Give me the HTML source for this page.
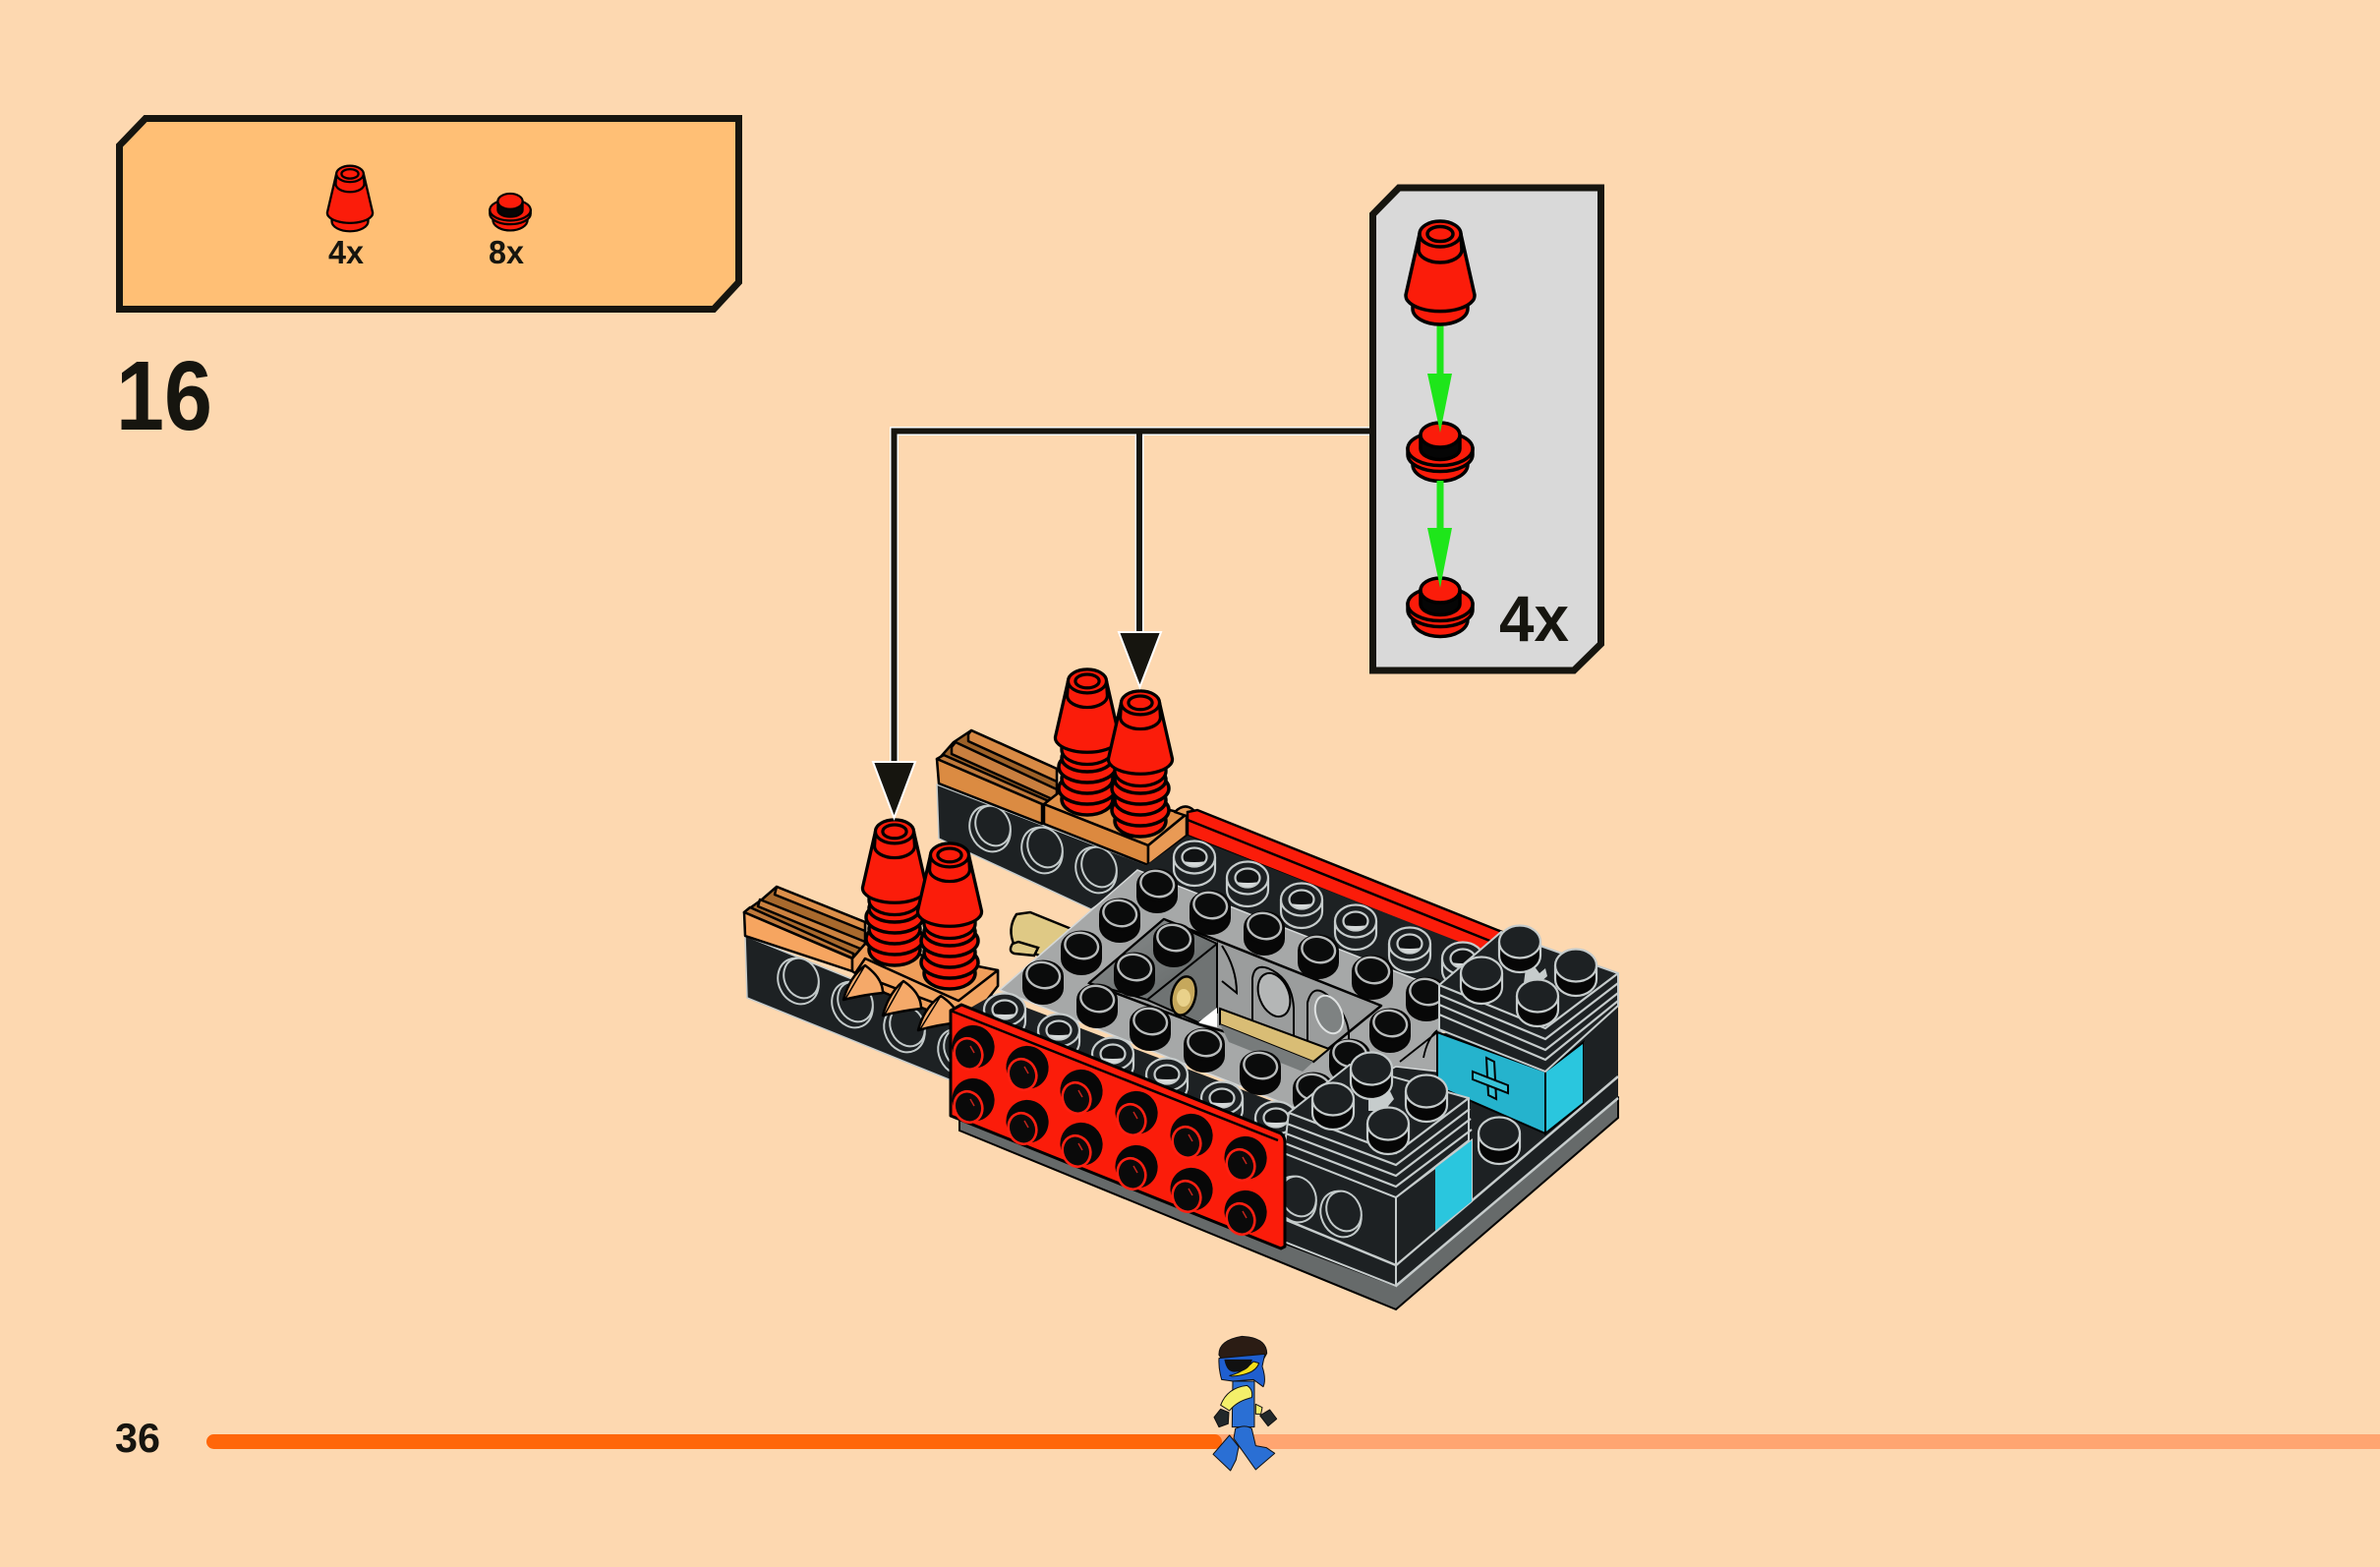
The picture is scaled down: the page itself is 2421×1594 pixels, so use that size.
<!DOCTYPE html>
<html><head><meta charset="utf-8"><style>html,body{margin:0;padding:0;background:#fdd8b0}svg{display:block}text{font-family:"Liberation Sans",sans-serif;font-weight:700;fill:#16150f}</style></head><body>
<svg width="2421" height="1594" viewBox="0 0 2421 1594" xmlns="http://www.w3.org/2000/svg">
<defs>
<g id="cone" stroke="#000" stroke-width="3.5" stroke-linejoin="round" fill="#fb1c0a">
<path d="M-28,84 V90 A28,16 0 0 0 28,90 V84Z"/>
<path d="M-21,14 L-35,76 Q-35,80 -33,82 A35,16 0 0 0 33,82 Q35,80 35,76 L21,14Z"/>
<path d="M-21,14 L-22,30 A22,13 0 0 0 22,30 L21,14Z"/>
<ellipse cy="14" rx="21" ry="13"/>
<ellipse cy="14" rx="13" ry="7.5"/>
</g>
<g id="plate" stroke="#000" stroke-width="3.5" fill="#fb1c0a">
<path d="M-28,38 V44 A28,17 0 0 0 28,44 V38Z"/>
<path d="M-33,28 V34 A33,17 0 0 0 33,34 V28Z"/>
<ellipse cy="28" rx="33" ry="17"/>
<path d="M-20,14 V28 A20,11 0 0 0 20,28 V14Z" fill="#050505"/>
<ellipse cy="14" rx="20" ry="12.5"/>
</g>
<g id="stack" stroke="#000" stroke-width="3.5" fill="#fb1c0a">
<ellipse cy="133" rx="26" ry="16"/><ellipse cy="122" rx="29" ry="16"/><ellipse cy="112" rx="26" ry="15"/><ellipse cy="100" rx="29" ry="16"/><ellipse cy="91" rx="26" ry="14"/>
<use href="#cone" transform="scale(.93,.92)"/>
</g>
<g id="bs">
<path d="M-21,0 V12 A21,17 0 0 0 21,12 V0Z" fill="#070707"/>
<ellipse rx="21" ry="16.5" fill="#070707"/>
<ellipse cy="-1" rx="17" ry="13" fill="#0b0c0c" stroke="#b9bcbc" stroke-width="2.4" transform="rotate(12)"/>
</g>
<g id="hs">
<path d="M-21,0 V12 A21,17 0 0 0 21,12 V0" fill="#1d2123" stroke="#c6cccc" stroke-width="2.2"/>
<ellipse rx="21" ry="16.5" fill="#1d2123" stroke="#c6cccc" stroke-width="2.2"/>
<ellipse rx="12.5" ry="9.5" fill="#101213" stroke="#c6cccc" stroke-width="2.2"/>
<path d="M-9,5 Q0,12 9,5 Q0,6 -9,5Z" fill="#d5d9d9" stroke="#d5d9d9"/>
</g>
<g id="ds">
<path d="M-21,0 V14 A21,17 0 0 0 21,14 V0" fill="#060606" stroke="#c6cccc" stroke-width="2.2"/>
<ellipse rx="21" ry="16.5" fill="#1d2123" stroke="#c6cccc" stroke-width="2.2"/>
</g>
<g id="rs">
<ellipse cx="1" cy="-2" rx="21.5" ry="22" fill="#070707" transform="rotate(-25)"/>
<ellipse cx="-5" cy="5" rx="14" ry="16" fill="#0a0a0a" stroke="#ff2012" stroke-width="2.6" transform="rotate(-22 -5 5)"/>
<path d="M-3,-3 L1,4" stroke="#c0241c" stroke-width="1.5"/>
</g>
<g id="ring" fill="none" stroke="#c3caca" stroke-width="2">
<ellipse rx="20" ry="24" transform="rotate(-25)"/>
<ellipse cx="3" cy="-3" rx="17" ry="21" fill="#1d2123" transform="rotate(-25 3 -3)"/>
</g>
<linearGradient id="panel" x1="0" y1="0" x2="1" y2="1"><stop offset="0" stop-color="#8d9090"/><stop offset="1" stop-color="#5d6262"/></linearGradient>
</defs>

<rect width="2421" height="1594" fill="#fdd8b0"/>

<!-- parts box -->
<path d="M148,120.5 H751.5 V287 L726,314.5 H121.5 V148Z" fill="#ffbf75" stroke="#16150f" stroke-width="7"/>
<use href="#cone" transform="translate(356,168) scale(.66,.635)"/>
<use href="#plate" transform="translate(519,196) scale(.63,.63)"/>
<text x="334" y="268" font-size="33" textLength="36" lengthAdjust="spacingAndGlyphs">4x</text>
<text x="497" y="268" font-size="33" textLength="36" lengthAdjust="spacingAndGlyphs">8x</text>
<text x="118" y="437" font-size="100" textLength="98" lengthAdjust="spacingAndGlyphs">16</text>

<!-- connector -->
<path d="M909.5,780 V438.5 H1395 M1159,438.5 V650" fill="none" stroke="#fff" stroke-width="9"/>
<path d="M909.5,780 V438.5 H1395 M1159,438.5 V650" fill="none" stroke="#16150f" stroke-width="6"/>

<!-- callout -->
<path d="M1423,191 H1628.5 V655 L1601,682 H1396.5 V218Z" fill="#d9d9d9" stroke="#16150f" stroke-width="7"/>
<rect x="1461.5" y="328" width="7" height="60" fill="#1ee61a"/>
<rect x="1461.5" y="489" width="7" height="55" fill="#1ee61a"/>
<use href="#plate" transform="translate(1465,586.5)"/>
<path d="M1452,537 H1477 L1465,598Z" fill="#1ee61a"/>
<use href="#plate" transform="translate(1465,428.5)"/>
<rect x="1461.5" y="489" width="7" height="55" fill="#1ee61a"/>
<path d="M1452,380 H1477 L1465,440Z" fill="#1ee61a"/>
<use href="#cone" transform="translate(1465,224)"/>
<text x="1525" y="652" font-size="66" textLength="71" lengthAdjust="spacingAndGlyphs">4x</text>

<!-- back bar -->
<g stroke="#000" stroke-width="2.5" stroke-linejoin="round">
<path d="M953,798 L1172,882 L1110,925 L955,853Z" fill="#1d2123" stroke="#c6cccc" stroke-width="1.5"/>
<use href="#ring" transform="translate(1007,843)"/><use href="#ring" transform="translate(1060,865)"/><use href="#ring" transform="translate(1115,885)"/>
<path d="M988,743 L1075,782 V822 L955,772 L970,755Z" fill="#9d6128"/>
<path d="M988,743 L1075,782 V795 L985,754 V747Z" fill="#d88a45"/>
<path d="M972,755 L1075,803 V815 L968,767 V760Z" fill="#c97f3f"/>
<path d="M953,772 L960,768 L1067,815 V820 L1060,818Z" fill="#c07a3c"/>
<path d="M953,772 L1060,818 V838 L955,797Z" fill="#db8b42"/>
<path d="M1062,818 L1085,800 L1207,828 L1168,860Z" fill="#e39249"/>
<path d="M1062,818 L1168,860 V880 L1062,838Z" fill="#dc893f"/>
<path d="M1168,860 L1207,828 V850 L1168,880Z" fill="#e99a55"/>
<path d="M1195,826 Q1205,816 1214,824 L1207,830Z" fill="#e99a55"/>
</g>

<!-- front bar -->
<g stroke="#000" stroke-width="2.5" stroke-linejoin="round">
<path d="M758,952 L1000,1050 L970,1100 L760,1015Z" fill="#1d2123" stroke="#c6cccc" stroke-width="1.5"/>
<use href="#ring" transform="translate(812,998)"/><use href="#ring" transform="translate(867,1022)"/><use href="#ring" transform="translate(920,1047)"/><use href="#ring" transform="translate(975,1070)"/>
<path d="M790,902 L880,938 V975 L757,928 L775,915Z" fill="#a8692d"/>
<path d="M790,902 L880,938 V947 L788,910Z" fill="#dc8f4a"/>
<path d="M773,915 L880,958 V967 L771,922Z" fill="#cc8240"/>
<path d="M757,928 L763,923 L868,970 V975Z" fill="#c07a3c"/>
<path d="M757,928 L867,975 V988 L758,952Z" fill="#f6a560"/>
<path d="M867,975 L880,960 L1015,987 V1003 L975,1040 L900,1010 L867,988Z" fill="#ef9e5a"/>
<path d="M870,990 L990,1035 L1015,1003 L1015,987 L975,1018 L880,975Z" fill="#f3a562"/>
<g fill="#f5a969">
<path d="M858,1017 Q864,994 880,982 Q898,995 898,1010 Q878,1012 858,1017Z"/>
<path d="M898,1033 Q904,1010 919,998 Q937,1010 937,1026 Q918,1028 898,1033Z"/>
<path d="M934,1048 Q940,1025 957,1013 Q975,1025 977,1040 Q955,1042 934,1048Z"/>
</g>
<path d="M880,982 L860,1016 M919,998 L900,1032 M957,1013 L936,1047" stroke-width="1.5" fill="none"/>
</g>

<!-- tan pin -->
<g stroke="#000" stroke-width="2.5">
<path d="M1034,930 L1048,928 L1090,945 L1060,973 L1032,962 Q1024,945 1034,930Z" fill="#dfc985"/>
<path d="M1030,960 Q1025,968 1032,970 L1052,972 L1056,964 L1036,958Z" fill="#dfc985"/>
</g>

<!-- back strips -->
<path d="M1208,826 L1218,824 L1528,948 L1507,969 L1208,850Z" fill="#fb1c0a" stroke="#000" stroke-width="2.5"/>
<path d="M1208,834 L1518,958" stroke="#000" stroke-width="2.5" fill="none"/>
<path d="M1158,886 L1208,850 L1510,968 L1475,1012Z" fill="#1d2123"/>
<use href="#hs" transform="translate(1215,872)"/><use href="#hs" transform="translate(1269,893)"/><use href="#hs" transform="translate(1324,915)"/><use href="#hs" transform="translate(1379,937)"/><use href="#hs" transform="translate(1434,960)"/><use href="#hs" transform="translate(1488,975)"/>

<!-- base -->
<path d="M976,1139 L1420,1308 L1646,1117 V1137 L1420,1332 L976,1150Z" fill="#666a6a" stroke="#000" stroke-width="2"/>
<path d="M1300,1245 L1420,1308 L1646,1117 L1646,1000 L1300,1100Z" fill="#1d2123"/>

<!-- front dark strip + gray top -->
<path d="M1010,1012 L1320,1130 L1310,1180 L970,1035Z" fill="#1d2123"/>
<path d="M1017,1007 L1157,885 L1470,1008 L1464,1090 L1420,1085 L1330,1133 L1317,1127Z" fill="#a6a8a8" stroke="#d5d8d8" stroke-width="1.5"/>
<g fill="none" stroke="#000" stroke-width="1.8"><path d="M1448,1076 Q1452,1056 1462,1048 M1424,1080 L1462,1050"/></g>
<!-- hole -->
<path d="M1108,1000 L1184,935 L1405,1023 L1351,1067 L1336,1080 L1241,1048 L1219,1042Z" fill="#9b9d9d" stroke="#000" stroke-width="2.5" stroke-linejoin="round"/>
<path d="M1108,1000 L1184,935 L1238,960 L1238,1025 L1167,1017Z" fill="url(#panel)" stroke="#000" stroke-width="2"/>
<path d="M1167,1017 L1238,960 V1030 L1219,1040Z" fill="#6f7373" stroke="#000" stroke-width="2"/>
<ellipse cx="1204" cy="1013" rx="12" ry="20" fill="#c6a85c" stroke="#000" stroke-width="2.5" transform="rotate(14 1204 1013)"/>
<ellipse cx="1204" cy="1015" rx="7" ry="9" fill="#e9d18a"/>
<path d="M1238,1025 V1045 L1219,1040Z" fill="#fff"/>
<g fill="none" stroke="#000" stroke-width="2"><path d="M1274,1050 V995 Q1276,980 1290,985 Q1314,995 1316,1025 V1062"/><ellipse cx="1296" cy="1012" rx="15" ry="23" fill="#b4b6b6" transform="rotate(-22 1296 1012)"/><path d="M1330,1070 V1020 Q1335,1000 1350,1012 Q1370,1030 1372,1050 V1070"/><ellipse cx="1352" cy="1032" rx="13" ry="20" fill="#7e8282" stroke="#dfe2e2" transform="rotate(-22 1352 1032)"/><path d="M1243,962 Q1258,985 1258,1010 L1243,998"/></g>
<path d="M1241,1026 L1352,1067 L1336,1080 L1241,1042Z" fill="#d9bd75" stroke="#000" stroke-width="2"/>
<path d="M1241,1042 L1336,1080 L1325,1090 L1250,1060Z" fill="#777b7b"/>

<!-- black studs -->
<g>
<use href="#bs" transform="translate(1177,900)"/><use href="#bs" transform="translate(1231,922)"/><use href="#bs" transform="translate(1286,943)"/><use href="#bs" transform="translate(1341,967)"/><use href="#bs" transform="translate(1396,988)"/><use href="#bs" transform="translate(1451,1010)"/>
<use href="#bs" transform="translate(1139,930)"/><use href="#bs" transform="translate(1194,955)"/>
<use href="#bs" transform="translate(1100,963)"/><use href="#bs" transform="translate(1154,985)"/>
<use href="#bs" transform="translate(1061,993)"/><use href="#bs" transform="translate(1116,1017)"/><use href="#bs" transform="translate(1170,1040)"/><use href="#bs" transform="translate(1225,1062)"/><use href="#bs" transform="translate(1282,1085)"/>
<use href="#bs" transform="translate(1414,1042)"/><use href="#bs" transform="translate(1373,1073)"/><use href="#bs" transform="translate(1336,1107)"/>
</g>
<!-- front hollow studs -->
<use href="#hs" transform="translate(1022,1027)"/><use href="#hs" transform="translate(1077,1048)"/><use href="#hs" transform="translate(1132,1072)"/><use href="#hs" transform="translate(1187,1093)"/><use href="#hs" transform="translate(1243,1117)"/><use href="#hs" transform="translate(1298,1137)"/>

<!-- right rear block -->
<path d="M1462,1050 L1572,1090 V1153 L1462,1105Z" fill="#25b3cd" stroke="#000" stroke-width="2"/>
<path d="M1572,1090 L1611,1060 V1122 L1572,1153Z" fill="#2ac6de" stroke="#000" stroke-width="2"/>
<path d="M1611,1060 L1646,1023 V1097 L1611,1122Z" fill="#1d2123"/>
<g fill="#39c3d8" stroke="#000" stroke-width="2"><path d="M1512,1076 L1520,1080 L1522,1118 L1514,1114Z"/><path d="M1498,1090 L1534,1104 L1534,1112 L1498,1098Z"/></g>
<path d="M1464,1002 L1527,948 L1646,990 V1023 L1572,1090 L1464,1047Z" fill="#1d2123" stroke="#c6cccc" stroke-width="2"/>
<g fill="none" stroke="#c6cccc" stroke-width="2.2"><path d="M1464,1012 L1572,1057 L1646,1000"/><path d="M1464,1022 L1572,1068 L1646,1010"/><path d="M1464,1032 L1572,1078 L1646,1018"/><path d="M1464,1002 L1572,1046 L1646,990"/></g>
<path d="M1552,985 L1560,982 L1566,990 L1572,985 L1574,993 L1566,1000 H1550Z" fill="#c6cccc"/>
<use href="#ds" transform="translate(1546,958)"/><use href="#ds" transform="translate(1603,982)"/><use href="#ds" transform="translate(1507,990)"/><use href="#ds" transform="translate(1564,1013)"/>
<use href="#ds" transform="translate(1525,1153)"/>

<!-- lower lines on right -->
<path d="M1420,1287 L1646,1095 M1420,1308 L1646,1117" fill="none" stroke="#c6cccc" stroke-width="2.5"/>

<!-- front right block -->
<path d="M1306,1173 L1420,1218 V1308 L1306,1263Z" fill="#1d2123" stroke="#c6cccc" stroke-width="2"/>
<path d="M1306,1240 L1420,1287" stroke="#c6cccc" stroke-width="2.5"/>
<path d="M1420,1218 L1497,1160 V1222 L1420,1287Z" fill="#1d2123" stroke="#c6cccc" stroke-width="2"/>
<path d="M1460,1188 L1497,1160 V1222 L1460,1252Z" fill="#2ac6de"/>
<use href="#ring" transform="translate(1364,1235)"/><use href="#ring" transform="translate(1318,1220)"/>
<path d="M1311,1132 L1373,1083 L1494,1117 V1160 L1420,1218 L1306,1173Z" fill="#1d2123" stroke="#c6cccc" stroke-width="2"/>
<g fill="none" stroke="#c6cccc" stroke-width="2.2"><path d="M1311,1132 L1420,1173 L1494,1117"/><path d="M1309,1143 L1420,1185 L1495,1128"/><path d="M1308,1153 L1420,1196 L1496,1138"/><path d="M1307,1163 L1420,1207 L1497,1149"/></g>
<path d="M1392,1112 L1402,1108 L1406,1116 L1414,1110 L1418,1118 L1408,1130 H1392Z" fill="#c6cccc"/>
<use href="#ds" transform="translate(1395,1087)"/><use href="#ds" transform="translate(1451,1110)"/><use href="#ds" transform="translate(1356,1118)"/><use href="#ds" transform="translate(1412,1143)"/>

<!-- red front plate -->
<path d="M967,1028 L978,1022 L1303,1153 Q1307,1156 1307,1162 V1268 L1303,1270 L967,1135Z" fill="#fb1c0a" stroke="#000" stroke-width="3" stroke-linejoin="round"/>
<path d="M967,1028 L1300,1160" fill="none" stroke="#000" stroke-width="2.5"/>
<use href="#rs" transform="translate(990,1067)"/><use href="#rs" transform="translate(1045,1088)"/><use href="#rs" transform="translate(1100,1112)"/><use href="#rs" transform="translate(1156,1134)"/><use href="#rs" transform="translate(1212,1157)"/><use href="#rs" transform="translate(1267,1180)"/>
<use href="#rs" transform="translate(990,1121)"/><use href="#rs" transform="translate(1045,1143)"/><use href="#rs" transform="translate(1100,1166)"/><use href="#rs" transform="translate(1156,1189)"/><use href="#rs" transform="translate(1212,1212)"/><use href="#rs" transform="translate(1267,1235)"/>

<!-- stacks -->
<use href="#stack" transform="translate(1106,680)"/>
<use href="#stack" transform="translate(1160,702)"/>
<use href="#stack" transform="translate(910,833)"/>
<use href="#stack" transform="translate(966,857)"/>

<!-- arrowheads -->
<path d="M888,775 H931 L909.5,832Z" fill="#16150f" stroke="#fff" stroke-width="2"/>
<path d="M1138,643 H1181 L1159.5,699Z" fill="#16150f" stroke="#fff" stroke-width="2"/>

<!-- timeline -->
<rect x="1220" y="1459" width="1201" height="15" fill="#ffa571"/>
<rect x="210" y="1459" width="1033" height="15" rx="7.5" fill="#ff660a"/>
<text x="117" y="1477" font-size="42" textLength="46" lengthAdjust="spacingAndGlyphs">36</text>

<!-- minifig -->
<g transform="translate(1160,1340) scale(.3333)" stroke="#111" stroke-width="3" stroke-linejoin="round">
<path d="M225,305 L245,280 L270,290 L268,325 L240,335Z" fill="#22282a"/>
<path d="M365,300 L395,282 L416,310 L390,332Z" fill="#22282a"/>
<path d="M352,265 L372,275 L368,295 L352,295Z" fill="#f0ee6a"/>
<path d="M282,195 H348 V335 H280Z" fill="#2a6fd4"/>
<path d="M245,268 Q265,215 325,208 Q345,220 340,245 Q295,255 272,285Z" fill="#f4f06a"/>
<path d="M290,340 Q320,325 340,340 L352,392 L385,398 L410,415 L352,465 L285,370Z" fill="#2a6fd4"/>
<path d="M272,360 L300,395 L292,435 L275,468 L222,418Z" fill="#2a6fd4"/>
<path d="M240,115 Q238,70 310,58 Q385,62 386,110 L375,130 H250Z" fill="#2b1c14"/>
<path d="M240,125 L380,112 L372,150 Q385,190 375,212 L345,190 L282,195 L248,190 Q238,155 240,125Z" fill="#1f5fd0"/>
<path d="M272,178 Q310,170 345,135 L362,140 Q350,175 280,180Z" fill="#f2de1a"/>
<path d="M258,130 H340 Q330,165 290,165 Q265,168 258,130Z" fill="#111"/>
</g>
</svg>
</body></html>
